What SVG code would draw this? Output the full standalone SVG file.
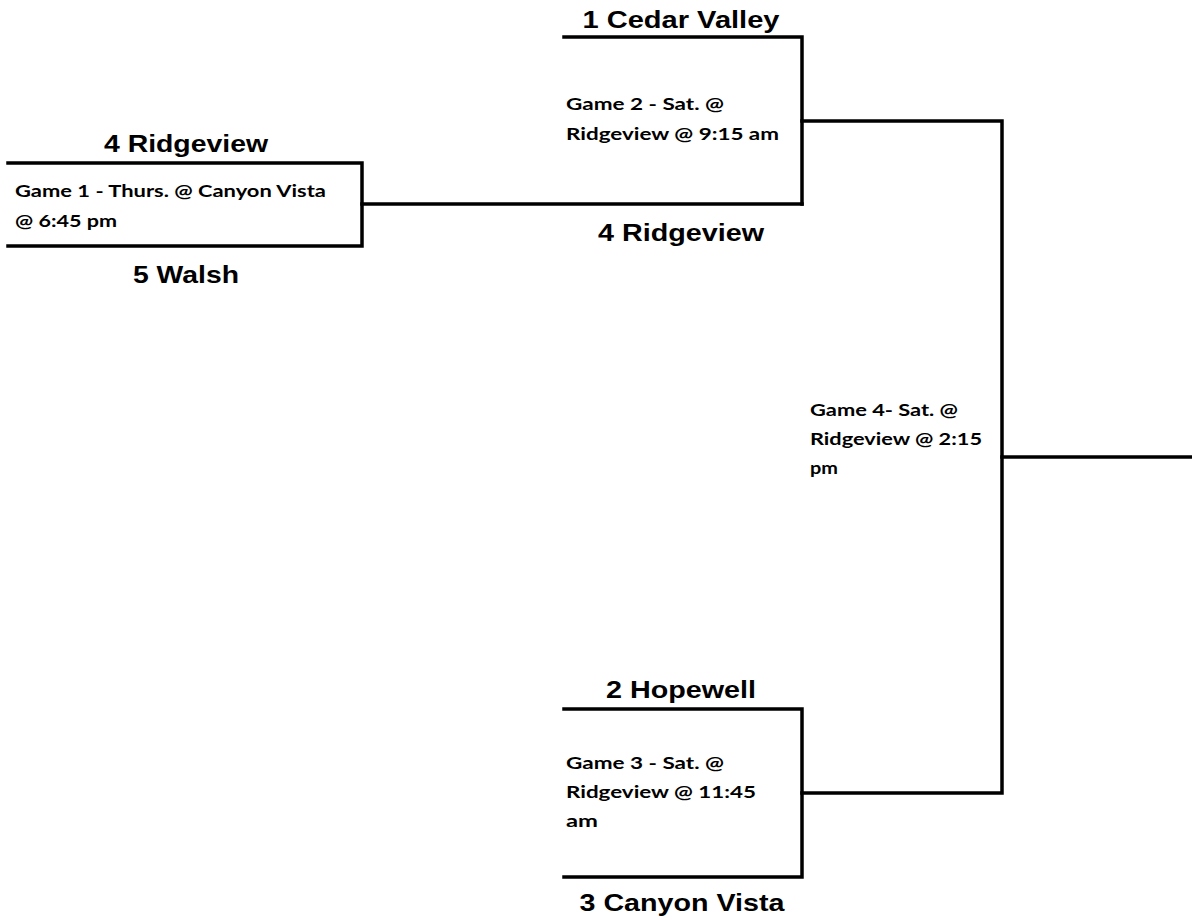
<svg xmlns="http://www.w3.org/2000/svg" width="1192" height="920" viewBox="0 0 1192 920">
<style>
.ln{stroke:#000;stroke-width:3.5;fill:none;stroke-linecap:square}
.team{font-family:"Liberation Sans",Arial,sans-serif;font-weight:bold;font-size:24px;fill:#000;text-anchor:middle}
.game{font-family:"Lato","Open Sans",sans-serif;font-weight:bold;font-size:17px;fill:#000}
</style>
<rect width="1192" height="920" fill="#fff"/>
<g id="game1">
<path class="ln" d="M8 163 H362 V246 H8"/>
<text class="team" x="186" y="152" textLength="164" lengthAdjust="spacingAndGlyphs">4 Ridgeview</text>
<text class="team" x="186" y="283" textLength="106" lengthAdjust="spacingAndGlyphs">5 Walsh</text>
<text class="game" x="15" y="197" textLength="311" lengthAdjust="spacingAndGlyphs">Game 1 - Thurs. @ Canyon Vista</text>
<text class="game" x="15" y="227" textLength="102" lengthAdjust="spacingAndGlyphs">@ 6:45 pm</text>
</g>
<g id="game2">
<path class="ln" d="M564 37 H802 V204"/>
<text class="team" x="681" y="28" textLength="197" lengthAdjust="spacingAndGlyphs">1 Cedar Valley</text>
<text class="team" x="681" y="241" textLength="166" lengthAdjust="spacingAndGlyphs">4 Ridgeview</text>
<text class="game" x="566" y="110" textLength="158" lengthAdjust="spacingAndGlyphs">Game 2 - Sat. @</text>
<text class="game" x="566" y="140" textLength="213" lengthAdjust="spacingAndGlyphs">Ridgeview @ 9:15 am</text>
</g>
<g id="game3">
<path class="ln" d="M564 709 H802 V877 H564"/>
<text class="team" x="681" y="698" textLength="150" lengthAdjust="spacingAndGlyphs">2 Hopewell</text>
<text class="team" x="682" y="911" textLength="205" lengthAdjust="spacingAndGlyphs">3 Canyon Vista</text>
<text class="game" x="566" y="769" textLength="158" lengthAdjust="spacingAndGlyphs">Game 3 - Sat. @</text>
<text class="game" x="566" y="798" textLength="190" lengthAdjust="spacingAndGlyphs">Ridgeview @ 11:45</text>
<text class="game" x="566" y="827" textLength="32" lengthAdjust="spacingAndGlyphs">am</text>
</g>
<g id="game4">
<text class="game" x="810" y="416" textLength="148" lengthAdjust="spacingAndGlyphs">Game 4- Sat. @</text>
<text class="game" x="810" y="445" textLength="172" lengthAdjust="spacingAndGlyphs">Ridgeview @ 2:15</text>
<text class="game" x="810" y="474" textLength="28" lengthAdjust="spacingAndGlyphs">pm</text>
</g>
<g id="connectors">
<path class="ln" d="M362 204 H802"/>
<path class="ln" d="M802 121 H1002 V793 H802"/>
<path class="ln" d="M1002 457 H1192"/>
</g>
</svg>
